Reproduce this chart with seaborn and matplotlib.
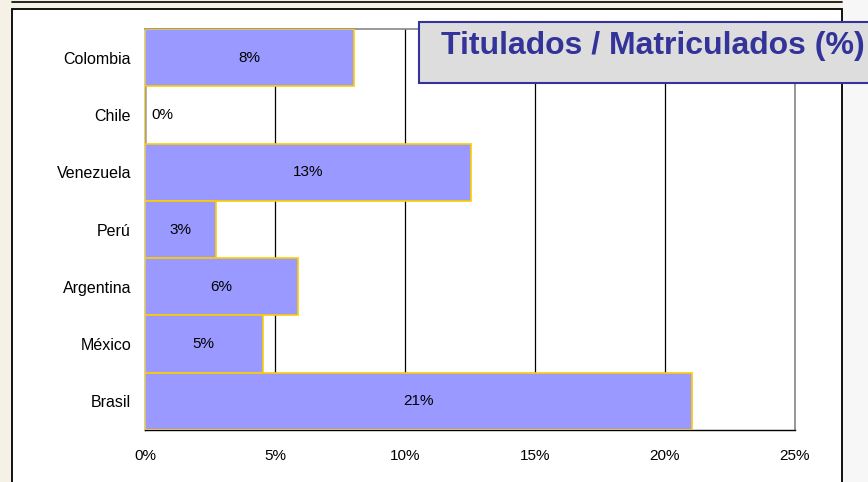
import pandas as pd
import seaborn as sns
import matplotlib.pyplot as plt
from matplotlib.patches import Rectangle
from matplotlib.lines import Line2D

# Data (percent)
paises = ["Colombia", "Chile", "Venezuela", "Perú", "Argentina", "México", "Brasil"]
tasa = [8.05, 0.0, 12.52, 2.73, 5.88, 4.52, 21.05]
xticks = [0, 5, 10, 15, 20, 25]

data = pd.DataFrame({"Pais": paises, "Tasa": tasa})

sns.set_style("white")
plt.rcParams["font.family"] = ["Liberation Sans", "DejaVu Sans"]
plt.rcParams["text.color"] = "black"
plt.rcParams["xtick.color"] = "black"
plt.rcParams["ytick.color"] = "black"

W, H = 868, 482
fig = plt.figure(figsize=(W / 100, H / 100), dpi=100, facecolor="#F6F1E6")

# slide frame behind the chart
fig.patches.append(Rectangle((843 / W, 0), 25 / W, 1, transform=fig.transFigure,
                             facecolor="#F7F7F7", edgecolor="none", zorder=0))
fig.patches.append(Rectangle((12 / W, -0.05), 830 / W, 1.05 - 9 / H,
                             transform=fig.transFigure, facecolor="white",
                             edgecolor="black", linewidth=1.3, zorder=1))
fig.lines.append(Line2D([12 / W, 842 / W], [1 - 2 / H, 1 - 2 / H],
                        transform=fig.transFigure, color="black", linewidth=1.2))

ax = fig.add_axes([145 / W, 52 / H, 650 / W, 401 / H])
ax.set_zorder(2)
sns.barplot(data=data, x="Tasa", y="Pais", order=paises, orient="h", width=1,
            color="#9999FF", saturation=1, edgecolor="#FFCC00", linewidth=1.2,
            ax=ax, zorder=3)

ax.set_xlim(0, 25)
ax.set_ylim(6.5, -0.5)
ax.set_xticks(xticks)
ax.set_xticklabels([f"{t}%" for t in xticks], fontsize=11)
ax.set_xlabel("")
ax.set_ylabel("")
ax.tick_params(axis="y", which="major", length=0, pad=10, labelsize=11.5)
ax.set_yticks([i - 0.5 for i in range(len(paises) + 1)], minor=True)
ax.tick_params(axis="y", which="minor", length=5, direction="out", color="black")
ax.tick_params(axis="x", length=5, direction="out", color="black", pad=9)

ax.xaxis.grid(True, color="black", linewidth=0.9)
ax.set_axisbelow(True)
for s in ["left", "bottom"]:
    ax.spines[s].set_color("black")
    ax.spines[s].set_linewidth(1.0)
for s in ["top", "right"]:
    ax.spines[s].set_color("#888888")
    ax.spines[s].set_linewidth(1.2)

# value labels
bars = ax.containers[0]
for rect, v in zip(bars, tasa):
    y = rect.get_y() + rect.get_height() / 2
    if v > 0:
        ax.text(v / 2, y, f"{v:.0f}%", ha="center", va="center", fontsize=11, zorder=4)
    else:
        ax.text(0.25, y, f"{v:.0f}%", ha="left", va="center", fontsize=11, zorder=4)

# title box
fig.patches.append(Rectangle((419 / W, 1 - 83 / H), 460 / W, 61 / H,
                             transform=fig.transFigure, facecolor="#DDDDDD",
                             edgecolor="#333399", linewidth=1.5, zorder=5))
fig.text(653 / W, 1 - 54 / H, "Titulados / Matriculados (%)", ha="center",
         va="baseline", fontsize=23, fontweight="bold", color="#333399", zorder=6)

fig.savefig("out.png", dpi=100, facecolor=fig.get_facecolor())
